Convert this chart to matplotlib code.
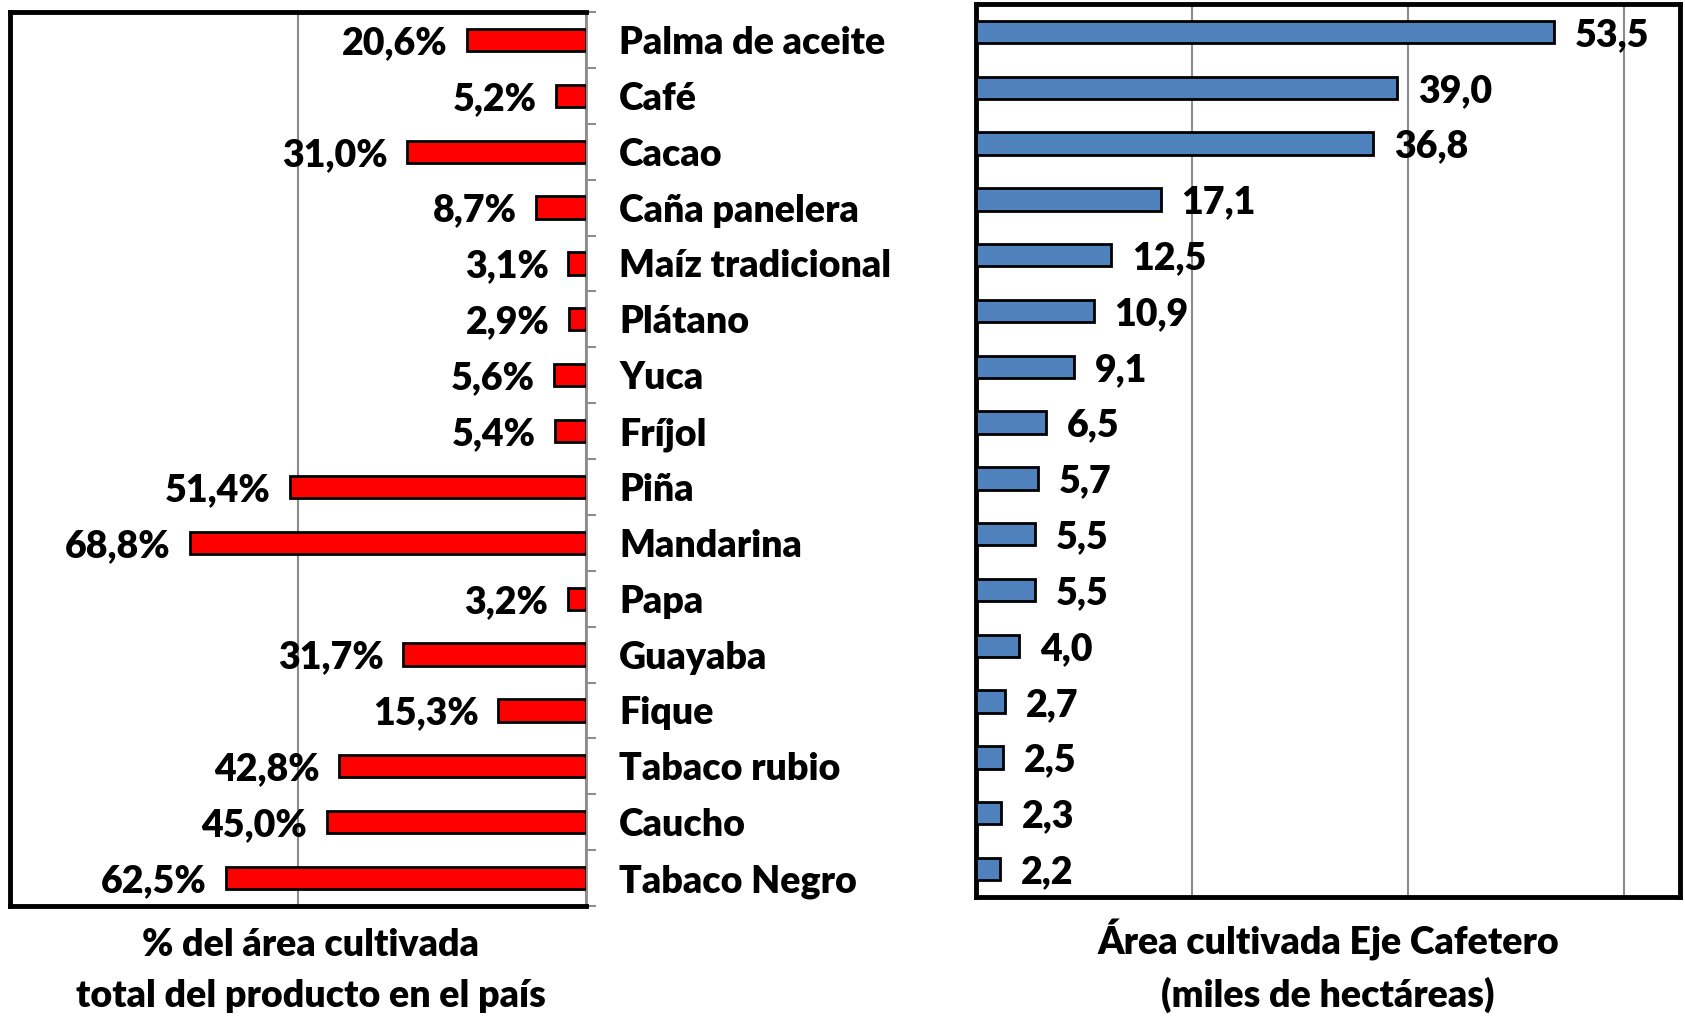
import matplotlib.pyplot as plt
import numpy as np

# datos
cultivos = ["Palma de aceite", "Café", "Cacao", "Caña panelera", "Maíz tradicional",
            "Plátano", "Yuca", "Fríjol", "Piña", "Mandarina", "Papa", "Guayaba",
            "Fique", "Tabaco rubio", "Caucho", "Tabaco Negro"]
pct_pais = [20.6, 5.2, 31.0, 8.7, 3.1, 2.9, 5.6, 5.4, 51.4, 68.8, 3.2, 31.7,
            15.3, 42.8, 45.0, 62.5]
area_eje = [53.5, 39.0, 36.8, 17.1, 12.5, 10.9, 9.1, 6.5, 5.7, 5.5, 5.5, 4.0,
            2.7, 2.5, 2.3, 2.2]

plt.rcParams['font.family'] = ['Lato', 'DejaVu Sans']

W, H = 1685, 1016
fig = plt.figure(figsize=(W / 100, H / 100), dpi=100)


def box(x0, y0, x1, y1):
    # pixel coords (top-left origin) -> figure fraction
    return [x0 / W, (H - y1) / H, (x1 - x0) / W, (y1 - y0) / H]


fs = 27
fw = 'heavy'
grid_gray = '#8c8c8c'
y = np.arange(len(cultivos))

# ---------- panel izquierdo ----------
ax1 = fig.add_axes(box(10, 12, 586, 906))
ax1.barh(y, pct_pais, height=0.4, color='#ff0000', edgecolor='black', linewidth=2, zorder=3)
ax1.set_xlim(100, 0)
ax1.set_ylim(len(cultivos) - 0.5, -0.5)
ax1.set_xticks([0, 50, 100])
ax1.tick_params(axis='x', length=0, labelbottom=False)
ax1.xaxis.grid(True, color=grid_gray, linewidth=1.5)
ax1.set_axisbelow(True)

ax1.yaxis.tick_right()
ax1.set_yticks(y, labels=cultivos)
ax1.set_yticks(np.arange(-0.5, len(cultivos)), minor=True)
ax1.tick_params(axis='y', which='major', length=0, pad=24, labelsize=fs)
ax1.tick_params(axis='y', which='minor', length=7, width=1.5, color=grid_gray, right=True, left=False)
for lbl in ax1.get_yticklabels():
    lbl.set_fontweight(fw)
    lbl.set_va('center_baseline')

for s in ['left', 'top', 'bottom']:
    ax1.spines[s].set_linewidth(3.5)
    ax1.spines[s].set_color('black')
ax1.spines['right'].set_color(grid_gray)
ax1.spines['right'].set_linewidth(2)

for yi, v in zip(y, pct_pais):
    ax1.annotate(f"{v:.1f}%".replace('.', ','), xy=(v, yi), xytext=(-14, 0),
                 textcoords='offset points', ha='right', va='center_baseline',
                 fontsize=fs, fontweight=fw)

ax1.set_xlabel("% del área cultivada\ntotal del producto en el país",
               fontsize=fs, fontweight=fw, linespacing=1.6)
ax1.xaxis.set_label_coords(0.522, -0.025)
ax1.xaxis.label.set_va('top')

# ---------- panel derecho ----------
ax2 = fig.add_axes(box(976, 4, 1680, 897))
ax2.barh(y, area_eje, height=0.4, color='#4f81bd', edgecolor='black', linewidth=2, zorder=3)
ax2.set_xlim(0, 65.2)
ax2.set_ylim(len(cultivos) - 0.5, -0.5)
ax2.set_xticks([20, 40, 60])
ax2.set_yticks([])
ax2.tick_params(axis='x', length=0, labelbottom=False)
ax2.xaxis.grid(True, color=grid_gray, linewidth=1.5)
ax2.set_axisbelow(True)
for s in ax2.spines.values():
    s.set_linewidth(3.5)
    s.set_color('black')

for yi, v in zip(y, area_eje):
    ax2.annotate(f"{v:.1f}".replace('.', ','), xy=(v, yi), xytext=(15, 0),
                 textcoords='offset points', ha='left', va='center_baseline',
                 fontsize=fs, fontweight=fw)

ax2.set_xlabel("Área cultivada Eje Cafetero\n(miles de hectáreas)",
               fontsize=fs, fontweight=fw, labelpad=16, linespacing=1.5)

fig.savefig('out.png', dpi=100)
